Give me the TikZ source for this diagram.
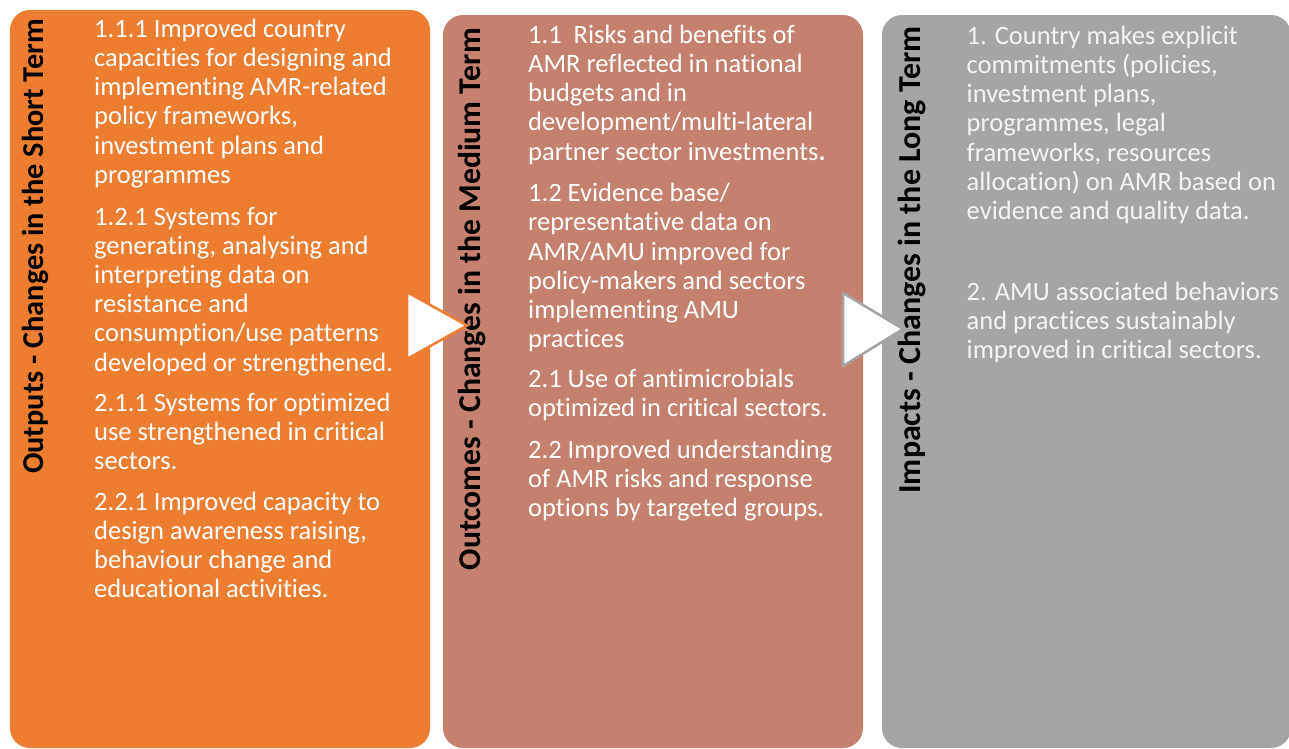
\documentclass[tikz,border=0pt]{standalone}
\usepackage{fontspec}
\setmainfont{Carlito}[Ligatures={NoCommon}]
\definecolor{orangeC}{HTML}{ED7D31}
\definecolor{brownC}{HTML}{C58070}
\definecolor{greyC}{HTML}{A5A5A5}
\definecolor{greyText}{HTML}{F4F4F4}
\begin{document}
\begin{tikzpicture}[x=1pt,y=-1pt,
  box/.style={rounded corners=20pt},
  body/.style={anchor=base west, align=left, inner sep=0pt, font=\fontsize{26.5}{29.2}\selectfont, text=white},
  vlabel/.style={rotate=90, anchor=base east, inner sep=0pt, text=black},
  tri/.style={fill=white, line width=2.5pt, line join=miter}]
\useasboundingbox (0,0) rectangle (1289,748);
% boxes
\fill[box, orangeC] (10,10) rectangle (430,748);
\fill[box, brownC] (443,15) rectangle (863,748);
\fill[box, greyC] (882,15) rectangle (1291,748);
% vertical labels
\node[vlabel, font=\fontsize{30.3}{36}\selectfont\bfseries] (lo) at (43.5,19) {Outputs - Changes in the Short Term};
\node[vlabel, font=\fontsize{31.7}{38}\selectfont\bfseries] (lb) at (480.5,28) {Outcomes - Changes in the Medium Term};
\node[vlabel, font=\fontsize{32}{38}\selectfont\bfseries] (lg) at (920.5,26) {Impacts - Changes in the Long Term};
% orange text (coordinates = baseline of the last line)
\node[body] (o1) at (94,183.3) {1.1.1 Improved country\\capacities for designing and\\implementing AMR-related\\policy frameworks,\\investment plans and\\programmes};
\node[body] (o2) at (94,371) {1.2.1 Systems for\\generating, analysing and\\interpreting data on\\resistance and\\consumption/use patterns\\developed or strengthened.};
\node[body] (o3) at (94,469.9) {2.1.1 Systems for optimized\\use strengthened in critical\\sectors.};
\node[body] (o4) at (94,597.6) {2.2.1 Improved capacity to\\design awareness raising,\\behaviour change and\\educational activities.};
% brown text
\node[body] (b1) at (528,160.1) {1.1\ \ Risks and benefits of\\AMR reflected in national\\budgets and in\\development/multi-lateral\\partner sector investments\textbf{.}};
\node[body] (b2) at (528,347.7) {1.2 Evidence base/\\representative data on\\AMR/AMU improved for\\policy-makers and sectors\\implementing AMU\\practices};
\node[body] (b3) at (528,416.5) {2.1 Use of antimicrobials\\optimized in critical sectors.};
\node[body] (b4) at (528,516.7) {2.2 Improved understanding\\of AMR risks and response\\options by targeted groups.};
% grey text
\node[body, text=greyText] (g1) at (966.5,219.5) {1. Country makes explicit\\commitments (policies,\\investment plans,\\programmes, legal\\frameworks, resources\\allocation) on AMR based on\\evidence and quality data.};
\node[body, text=greyText] (g2) at (966.5,358.4) {2. AMU associated behaviors\\and practices sustainably\\improved in critical sectors.};
% arrows
\draw[tri, draw=orangeC] (407,292) -- (467,325.5) -- (407,359) -- cycle;
\draw[tri, draw=greyC] (843,293) -- (903,329) -- (843,366) -- cycle;
\end{tikzpicture}
\end{document}
